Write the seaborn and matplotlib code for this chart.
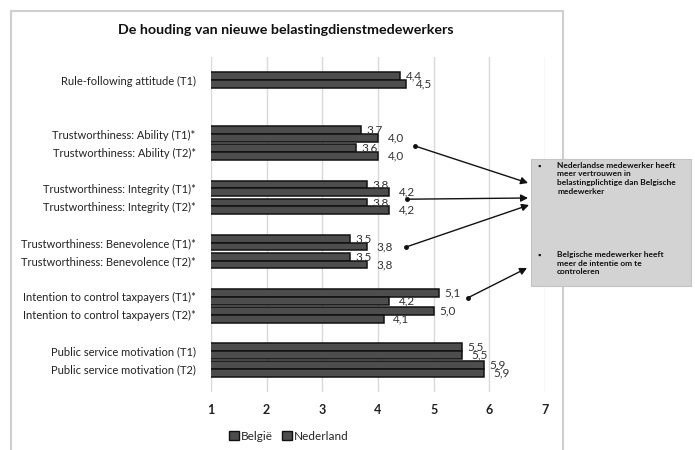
import matplotlib
matplotlib.use("Agg")
import matplotlib.pyplot as plt
import seaborn as sns
import pandas as pd
from matplotlib.patches import Rectangle

# ---- data -------------------------------------------------------------
categories = [
    "Rule-following attitude (T1)",
    "Trustworthiness: Ability (T1)*",
    "Trustworthiness: Ability (T2)*",
    "Trustworthiness: Integrity (T1)*",
    "Trustworthiness: Integrity (T2)*",
    "Trustworthiness: Benevolence (T1)*",
    "Trustworthiness: Benevolence (T2)*",
    "Intention to control taxpayers (T1)*",
    "Intention to control taxpayers (T2)*",
    "Public service motivation (T1)",
    "Public service motivation (T2)",
]
belgie = [4.4, 3.7, 3.6, 3.8, 3.8, 3.5, 3.5, 5.1, 5.0, 5.5, 5.9]
nederland = [4.5, 4.0, 4.0, 4.2, 4.2, 3.8, 3.8, 4.2, 4.1, 5.5, 5.9]
series = ["België", "Nederland"]
x_ticks = [1, 2, 3, 4, 5, 6, 7]

title = "De houding van nieuwe belastingdienstmedewerkers"
note_1 = ("Nederlandse medewerker heeft\nmeer vertrouwen in\n"
          "belastingplichtige dan Belgische\nmedewerker")
note_2 = "Belgische medewerker heeft\nmeer de intentie om te\ncontroleren"

# category order on the axis, with empty rows separating the groups
row_order = [
    categories[0], " ", "  ",
    categories[1], categories[2], "   ",
    categories[3], categories[4], "    ",
    categories[5], categories[6], "     ",
    categories[7], categories[8], "      ",
    categories[9], categories[10],
]

df = pd.DataFrame({
    "categorie": categories * 2,
    "land": [series[0]] * len(categories) + [series[1]] * len(categories),
    "score": belgie + nederland,
})

# ---- figure -----------------------------------------------------------
sns.set_theme(style="white")
plt.rcParams["font.family"] = ["Lato", "DejaVu Sans"]

W, H = 695, 450
fig = plt.figure(figsize=(W / 100, H / 100), dpi=100)
ax = fig.add_axes([211 / W, 1 - 392 / H, (545 - 211) / W, (392 - 57) / H])

bar_color = "#4d4d4d"
sns.barplot(
    data=df, x="score", y="categorie", hue="land", order=row_order,
    hue_order=series, palette=[bar_color, bar_color], width=0.86,
    orient="h", edgecolor="#111111", linewidth=1.1, saturation=1,
    legend=False, ax=ax,
)

ax.set_xlim(x_ticks[0], x_ticks[-1])
ax.set_xticks(x_ticks)
ax.set_xticklabels([str(t) for t in x_ticks], fontsize=9, fontweight="bold",
                   color="#222222")
ax.set_yticks(range(len(row_order)))
ax.set_yticklabels([r.strip() for r in row_order], fontsize=8, color="#222222")
ax.tick_params(axis="y", length=0, pad=11)
ax.tick_params(axis="x", length=0, pad=9)
ax.set_xlabel("")
ax.set_ylabel("")
for s in ax.spines.values():
    s.set_visible(False)
ax.grid(False)
for t in x_ticks:
    ax.axvline(t, color="#d9d9d9", lw=1.0, zorder=0)
ax.set_axisbelow(True)

# value labels with a decimal comma
fmt = lambda v: f"{v:.1f}".replace(".", ",")
for cont, pad in zip(ax.containers, (4, 7)):
    ax.bar_label(cont, fmt=fmt, padding=pad, fontsize=8.5, color="#333333")

# legend below the axis
handles = [Rectangle((0, 0), 1, 1, facecolor=bar_color, edgecolor="#111111",
                     lw=1.0) for _ in series]
fig.legend(handles, series, loc="center", bbox_to_anchor=(289 / W, 1 - 436 / H),
           ncol=2, frameon=False, fontsize=8.5, handlelength=0.8,
           handleheight=0.8, handletextpad=0.2, columnspacing=0.8)

# title
fig.text(286 / W, 1 - 30 / H, title, ha="center", va="center",
         fontsize=10.3, fontweight="bold", color="#111111")

# chart frame
fig.patches.append(Rectangle((11 / W, -0.05), (563 - 11) / W, 1.05 - 11 / H,
                             transform=fig.transFigure, fill=False,
                             edgecolor="#cfcfcf", lw=1.5, zorder=0))

# comment box on the right
fig.patches.append(Rectangle((531 / W, 1 - 286 / H), (691 - 531) / W,
                             (286 - 159) / H, transform=fig.transFigure,
                             facecolor="#d3d3d3", edgecolor="#c4c4c4",
                             lw=0.8, zorder=3))
for y_top, txt in ((162, note_1), (251, note_2)):
    fig.text(539 / W, 1 - (y_top + 4) / H, "\u25aa", ha="center", va="center",
             fontsize=6, color="#111111", zorder=4)
    fig.text(557 / W, 1 - y_top / H, txt, ha="left", va="top", fontsize=6,
             fontweight="bold", color="#111111", linespacing=1.25, zorder=4)

# arrows from the compared bars to the comments
arrows = [
    ((4.66, 3.65), (528, 183)),
    ((4.52, 6.6), (528, 198)),
    ((4.50, 9.25), (529, 205)),
    ((5.62, 12.05), (527, 268)),
]
for (sx, sy), (ex, ey) in arrows:
    ax.annotate("", xy=(ex, H - ey), xycoords="figure pixels",
                xytext=(sx, sy), textcoords="data",
                arrowprops=dict(arrowstyle="-|>,head_length=0.35,head_width=0.18",
                                color="#111111", lw=1.0, shrinkA=0, shrinkB=0),
                annotation_clip=False, zorder=5)
    ax.plot(sx, sy, "o", ms=2.5, color="#111111", clip_on=False, zorder=5)

fig.savefig("out.png", dpi=100)
